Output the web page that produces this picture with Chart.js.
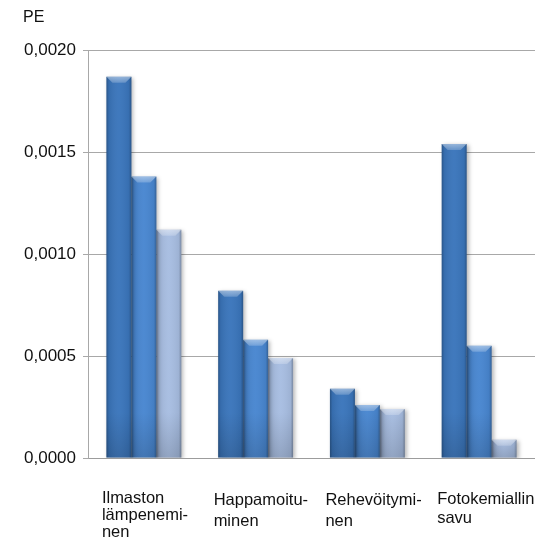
<!DOCTYPE html>
<html>
<head>
<meta charset="utf-8">
<script src="https://cdn.jsdelivr.net/npm/chart.js@4.4.1/dist/chart.umd.min.js"></script>
<style>
  html, body { margin: 0; padding: 0; background: #ffffff; }
  #wrap { width: 535px; height: 538px; }
</style>
</head>
<body>
<div id="wrap"><canvas id="c" width="535" height="538"></canvas></div>
<script>
// Impact categories (wrapped as on the slide) and the three compared cases
const categories = [
  ["Ilmaston", "lämpenemi-", "nen"],
  ["Happamoitu-", "minen"],
  ["Rehevöitymi-", "nen"],
  ["Fotokemiallinen", "savu"]
];
const seriesA = [0.00187, 0.00082, 0.00034, 0.00154];
const seriesB = [0.00138, 0.00058, 0.00026, 0.00055];
const seriesC = [0.00112, 0.00049, 0.00024, 0.00009];
const yMin = 0;
const yMax = 0.002;
const yStep = 0.0005;
const unitLabel = "PE";

const FONT = "'Liberation Sans', Arial, sans-serif";

// Gives each bar a bevelled, slightly shaded look on top of its flat fill
const bevelPlugin = {
  id: 'bevel',
  beforeDatasetsDraw(chart) {
    const ctx = chart.ctx;
    ctx.save();
    ctx.shadowColor = 'rgba(0,0,0,0.28)';
    ctx.shadowBlur = 4;
    ctx.shadowOffsetX = 2;
    ctx.shadowOffsetY = 1;
  },
  afterDatasetsDraw(chart) {
    const ctx = chart.ctx;
    ctx.restore();
    ctx.save();
    chart.data.datasets.forEach((ds, di) => {
      chart.getDatasetMeta(di).data.forEach(bar => {
        const { x, y, base, width } = bar.getProps(['x', 'y', 'base', 'width'], true);
        const l = x - width / 2, r = x + width / 2, h = base - y;
        if (h <= 0) return;
        // darker edges left and right
        const g = ctx.createLinearGradient(l, 0, r, 0);
        g.addColorStop(0, 'rgba(0,0,0,0.28)');
        g.addColorStop(0.1, 'rgba(0,0,0,0.08)');
        g.addColorStop(0.5, 'rgba(255,255,255,0.03)');
        g.addColorStop(0.9, 'rgba(0,0,0,0.06)');
        g.addColorStop(1, 'rgba(0,0,0,0.28)');
        ctx.fillStyle = g;
        ctx.fillRect(l, y, width, h);
        // slight darkening toward the base
        const v = ctx.createLinearGradient(0, Math.max(y, base - 45), 0, base);
        v.addColorStop(0, 'rgba(0,0,0,0)');
        v.addColorStop(1, 'rgba(0,0,0,0.14)');
        ctx.fillStyle = v;
        ctx.fillRect(l, Math.max(y, base - 45), width, Math.min(h, 45));
        // light bevel along the top
        const b = Math.min(6, h / 2);
        ctx.beginPath();
        ctx.moveTo(l, y);
        ctx.lineTo(r, y);
        ctx.lineTo(r - b, y + b);
        ctx.lineTo(l + b, y + b);
        ctx.closePath();
        const t = ctx.createLinearGradient(0, y, 0, y + b);
        t.addColorStop(0, 'rgba(255,255,255,0.45)');
        t.addColorStop(1, 'rgba(255,255,255,0.2)');
        ctx.fillStyle = t;
        ctx.fill();
      });
    });
    ctx.restore();
  }
};

const lineHeights = [17, 21, 21, 19];

new Chart(document.getElementById('c'), {
  type: 'bar',
  data: {
    labels: categories,
    datasets: [
      { data: seriesA, backgroundColor: '#3a75bb' },
      { data: seriesB, backgroundColor: '#4886d0' },
      { data: seriesC, backgroundColor: '#a7bde1' }
    ]
  },
  options: {
    responsive: false,
    devicePixelRatio: 1,
    animation: false,
    events: [],
    datasets: {
      bar: { barPercentage: 1, categoryPercentage: 0.67, borderWidth: 0 }
    },
    layout: { padding: { left: 23, right: -1, top: 0, bottom: 0 } },
    plugins: {
      legend: { display: false },
      tooltip: { enabled: false },
      title: {
        display: true,
        text: unitLabel,
        align: 'start',
        color: '#111111',
        font: { family: FONT, size: 16, weight: 'normal' },
        padding: { top: 8, bottom: 23 }
      }
    },
    scales: {
      x: {
        offset: true,
        grid: { display: false, drawTicks: false },
        border: { display: true, color: '#9c9c9c', width: 1 },
        ticks: {
          align: 'start',
          labelOffset: -42,
          padding: 31.5,
          color: '#111111',
          autoSkip: false,
          maxRotation: 0,
          minRotation: 0,
          font: (ctx) => ({ family: FONT, size: 16.5, lineHeight: (lineHeights[ctx.index] || 20) + 'px' })
        },
        afterFit(scale) {
          scale.height = 80;
          scale.paddingLeft = 0;
          scale.paddingRight = 0;
        }
      },
      y: {
        min: yMin,
        max: yMax,
        grid: { color: '#a8a8a8', lineWidth: 1, tickLength: 5, drawTicks: true },
        border: { display: true, color: '#a8a8a8', width: 1 },
        ticks: {
          stepSize: yStep,
          padding: 7,
          color: '#111111',
          font: { family: FONT, size: 17 },
          callback: (v) => Number(v).toFixed(4).replace('.', ',')
        },
        afterFit(scale) {
          scale.width = 65;
        }
      }
    }
  },
  plugins: [bevelPlugin]
});
</script>
</body>
</html>
